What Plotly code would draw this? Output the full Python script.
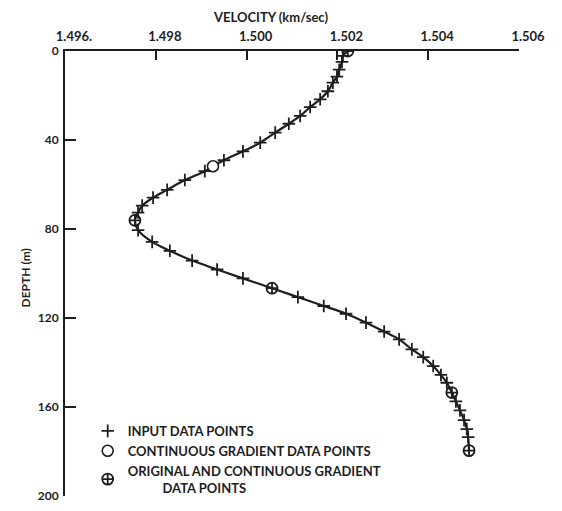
import plotly.graph_objects as go

# Input data points (velocity km/s, depth m)
input_vel = [1.50212, 1.50210, 1.50204, 1.50199, 1.50190, 1.50179, 1.50162, 1.50140,
             1.50118, 1.50093, 1.50063, 1.50030, 1.49992, 1.49950, 1.49908, 1.49864,
             1.49825, 1.49794, 1.49770, 1.49761, 1.49761, 1.49792, 1.49831, 1.49880,
             1.49935, 1.49992, 1.50113, 1.50170, 1.50219, 1.50263, 1.50303, 1.50336,
             1.50364, 1.50389, 1.50411, 1.50428, 1.50441, 1.50461, 1.50470, 1.50479,
             1.50485, 1.50488]
input_depth = [2.2, 4.9, 8.4, 11.5, 14.2, 18.1, 21.7, 25.2,
               29.2, 32.7, 36.7, 41.2, 45.1, 49.1, 54.0, 58.0,
               62.4, 65.9, 69.5, 72.6, 80.5, 85.8, 89.8, 94.2,
               98.2, 102.2, 110.6, 114.6, 118.1, 122.1, 126.1, 129.6,
               134.1, 137.6, 141.6, 145.6, 149.1, 157.5, 161.5, 165.9,
               169.9, 173.5]

# Continuous gradient data points
cont_vel = [1.49926]
cont_depth = [51.8]

# Original and continuous gradient data points
orig_vel = [1.50223, 1.49754, 1.50056, 1.50452, 1.50490]
orig_depth = [0.0, 76.1, 106.6, 153.5, 179.6]

x_ticks = [1.496, 1.498, 1.500, 1.502, 1.504, 1.506]
x_ticklabels = ["1.496.", "1.498", "1.500", "1.502", "1.504", "1.506"]
y_ticks = [0, 40, 80, 120, 160, 200]

INK = "#1e1e1e"
FONT = "Lato"
W = "bold"

# curve through all points, ordered by depth
pts = sorted(zip(input_depth + cont_depth + orig_depth, input_vel + cont_vel + orig_vel))
curve_depth = [p[0] for p in pts]
curve_vel = [p[1] for p in pts]

fig = go.Figure()
fig.add_trace(go.Scatter(x=curve_vel, y=curve_depth, mode="lines",
                         line=dict(color=INK, width=2.2, shape="spline", smoothing=1.0),
                         showlegend=False, hoverinfo="skip"))
fig.add_trace(go.Scatter(x=input_vel, y=input_depth, mode="markers",
                         name="INPUT DATA POINTS",
                         marker=dict(symbol="cross-thin", size=9, color=INK,
                                     line=dict(color=INK, width=1.8))))
fig.add_trace(go.Scatter(x=cont_vel, y=cont_depth, mode="markers",
                         name="CONTINUOUS GRADIENT DATA POINTS",
                         marker=dict(symbol="circle", size=11, color="white",
                                     line=dict(color=INK, width=1.6))))
fig.add_trace(go.Scatter(x=orig_vel, y=orig_depth, mode="markers",
                         name="ORIGINAL AND CONTINUOUS GRADIENT<br>" + "\u00a0" * 11 + "DATA POINTS",
                         marker=dict(symbol="circle-cross-open", size=11, color=INK,
                                     line=dict(color=INK, width=1.8))))

fig.update_layout(
    width=562, height=511,
    margin=dict(l=65, r=43, t=51, b=8),
    paper_bgcolor="white", plot_bgcolor="white",
    font=dict(family=FONT, color=INK, size=13, weight=W),
    showlegend=True,
    legend=dict(x=0.05, y=0.18, xanchor="left", yanchor="top",
                bgcolor="rgba(0,0,0,0)", font=dict(size=13, family=FONT, color=INK, weight=W),
                tracegroupgap=0, itemwidth=30),
    xaxis=dict(side="top", range=[1.496, 1.506], tickvals=x_ticks, ticktext=x_ticklabels,
               ticks="inside", ticklen=9, tickwidth=1.8, tickcolor=INK,
               showline=True, linecolor=INK, linewidth=1.8, showgrid=False, zeroline=False,
               ticklabelshift=9, ticklabelstandoff=3,
               tickfont=dict(size=13, family=FONT, color=INK, weight=W)),
    yaxis=dict(range=[200, 0], tickvals=y_ticks, ticks="inside", ticklen=11, tickwidth=1.8,
               tickcolor=INK, showline=True, linecolor=INK, linewidth=1.8, showgrid=False,
               zeroline=False, ticklabelstandoff=2,
               tickfont=dict(size=12, family=FONT, color=INK, weight=W)),
    annotations=[
        dict(text="VELOCITY (km/sec)", xref="paper", yref="paper",
             x=(270 - 65) / 454, y=1 + (51 - 16) / 452, yanchor="middle", showarrow=False,
             font=dict(size=13, family=FONT, color=INK, weight=W)),
        dict(text="DEPTH (m)", xref="paper", yref="paper", textangle=-90,
             x=(25 - 65) / 454, y=1 - (282 - 51) / 452, xanchor="center", yanchor="middle",
             showarrow=False, font=dict(size=12, family=FONT, color=INK, weight=W)),
    ],
)

fig.write_html("out.html")
